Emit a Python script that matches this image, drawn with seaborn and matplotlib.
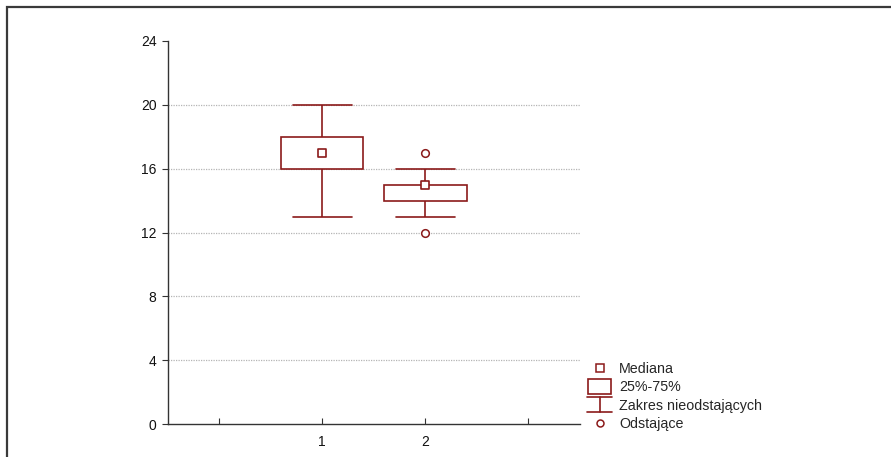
import numpy as np
import pandas as pd
import seaborn as sns
import matplotlib
matplotlib.use("Agg")
import matplotlib.pyplot as plt
from matplotlib.lines import Line2D
from matplotlib.patches import Rectangle
from matplotlib.legend_handler import HandlerBase

# Observations for the two groups
group_ids = [1, 1, 1, 1, 1, 1, 1, 1, 1,
             2, 2, 2, 2, 2, 2, 2, 2, 2, 2]
values = [13, 16, 16, 17, 17, 17, 18, 18, 20,
          12, 13, 14, 14, 15, 15, 15, 15, 16, 17]

y_ticks = [0, 4, 8, 12, 16, 20, 24]
grid_levels = [4, 8, 12, 16, 20]
x_ticks = [0, 1, 2, 3]
x_tick_labels = ["", "1", "2", ""]
legend_labels = ["Mediana", "25%-75%", "Zakres nieodstających", "Odstające"]

RED = "#8b1a1a"
GRID = "#b5b5b5"

df = pd.DataFrame({"grupa": group_ids, "wartosc": values})
medians = df.groupby("grupa", as_index=False)["wartosc"].median()

sns.set_theme(style="white")
plt.rcParams["font.family"] = ["Liberation Sans", "DejaVu Sans"]

fig = plt.figure(figsize=(8.91, 4.57), dpi=100)
ax = fig.add_axes([167.5 / 891, 1 - 424 / 457, (580 - 167.5) / 891, (424 - 41) / 457])

for lvl in grid_levels:
    ax.axhline(lvl, color=GRID, lw=0.9, ls=(0, (1, 1)), zorder=0)

sns.boxplot(
    data=df, x="grupa", y="wartosc", native_scale=True, width=0.8,
    color="white", linecolor=RED, linewidth=1.2, whis=1.5, ax=ax,
    capwidths=0.57,
    medianprops={"visible": False},
    flierprops={"marker": "o", "markerfacecolor": "white",
                "markeredgecolor": RED, "markersize": 5.5,
                "markeredgewidth": 1.1},
)
sns.scatterplot(
    data=medians, x="grupa", y="wartosc", marker="s", s=40,
    facecolor="white", edgecolor=RED, linewidth=1.2, ax=ax, zorder=5,
    legend=False,
)

ax.set_xlim(-0.5, 3.5)
ax.set_ylim(0, 24)
ax.set_yticks(y_ticks)
ax.set_yticklabels([str(v) for v in y_ticks])
ax.set_xticks(x_ticks)
ax.set_xticklabels(x_tick_labels)
ax.set_xlabel("")
ax.set_ylabel("")
for side in ["top", "right"]:
    ax.spines[side].set_visible(False)
for side in ["left", "bottom"]:
    ax.spines[side].set_color("#333333")
    ax.spines[side].set_linewidth(1.0)
ax.tick_params(axis="y", direction="out", length=4, width=0.8, color="#333333",
               labelsize=10, pad=4, left=True, labelcolor="#111111")
ax.tick_params(axis="x", direction="in", length=4, width=0.8, color="#333333",
               labelsize=10, pad=8, bottom=True, labelcolor="#111111")


class BoxHandler(HandlerBase):
    def create_artists(self, legend, orig, xd, yd, w, h, fontsize, trans):
        r = Rectangle((xd + 1, yd - 0.25 * h), w - 2, 1.5 * h,
                      facecolor="white", edgecolor=RED, lw=1.2, transform=trans)
        return [r]


class WhiskerHandler(HandlerBase):
    def create_artists(self, legend, orig, xd, yd, w, h, fontsize, trans):
        top = yd + 1.3 * h
        bot = yd - 0.2 * h
        mid = xd + w / 2
        arts = [
            Line2D([xd, xd + w], [top, top], color=RED, lw=1.2),
            Line2D([mid, mid], [bot, top], color=RED, lw=1.2),
            Line2D([xd, xd + w], [bot, bot], color=RED, lw=1.2),
        ]
        for a in arts:
            a.set_transform(trans)
        return arts


class MarkerHandler(HandlerBase):
    def __init__(self, marker, size):
        super().__init__()
        self.marker = marker
        self.size = size

    def create_artists(self, legend, orig, xd, yd, w, h, fontsize, trans):
        m = Line2D([xd + w / 2], [yd + h / 2], marker=self.marker, ls="none",
                   markersize=self.size, markerfacecolor="white",
                   markeredgecolor=RED, markeredgewidth=1.1)
        m.set_transform(trans)
        return [m]


class _Entry:
    pass


handles = [_Entry(), _Entry(), _Entry(), _Entry()]
handler_map = {
    handles[0]: MarkerHandler("s", 5.5),
    handles[1]: BoxHandler(),
    handles[2]: WhiskerHandler(),
    handles[3]: MarkerHandler("o", 5),
}

fig.legend(handles, legend_labels, handler_map=handler_map,
           loc="lower left", bbox_to_anchor=(587 / 891, 1 - 431 / 457),
           frameon=False, fontsize=10.3, handlelength=1.75, handletextpad=0.5,
           labelspacing=0.3, borderpad=0, borderaxespad=0)

# Outer frame, partly cropped on the right and bottom
fig.add_artist(Rectangle((7 / 891, -0.5), 2.0, 0.5 + (1 - 7 / 457),
                         transform=fig.transFigure, fill=False,
                         edgecolor="#3a3a3a", lw=1.6, clip_on=False))

fig.savefig("out.png", dpi=100)
